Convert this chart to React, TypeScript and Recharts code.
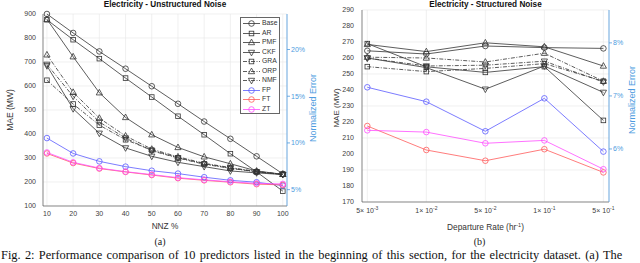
import React from "react";
import { LineChart, Line, XAxis, YAxis, CartesianGrid } from "recharts";

// (a) unstructured noise, MAE (MW) vs NNZ %
const nnz = [10, 20, 30, 40, 50, 60, 70, 80, 90, 100];
const baseA = [900, 821, 744, 672, 599, 526, 452, 380, 307, 234];
const arA = [876, 793, 714, 633, 554, 474, 397, 318, 242, 162];
const pmfA = [878, 722, 572, 469, 397, 344, 305, 276, 246, 232];
const ckfA = [684, 505, 403, 342, 307, 282, 264, 246, 238, 231];
const graA = [624, 525, 437, 376, 333, 301, 276, 258, 243, 232];
const orpA = [730, 574, 466, 392, 337, 305, 278, 260, 244, 232];
const nmfA = [690, 557, 450, 383, 330, 300, 274, 257, 242, 231];
const fpA = [383, 319, 286, 264, 247, 235, 220, 207, 199, 185];
const ftA = [319, 279, 256, 242, 229, 216, 207, 199, 191, 188];
const ztA = [323, 282, 258, 243, 231, 218, 209, 201, 194, 192];

// (b) structured noise, MAE (MW) vs departure rate
const rateMant = ["5", "1", "5", "1", "5"];
const rateExp = ["-3", "-2", "-2", "-1", "-1"];
const baseB = [264.5, 262.5, 267.5, 266.5, 266];
const arB = [269, 254.5, 251, 254.6, 221];
const pmfB = [268.5, 264, 269.5, 267, 255];
const ckfB = [260, 254, 240.5, 255, 238.5];
const graB = [254.6, 251.5, 253.5, 256.5, 245.5];
const orpB = [260.5, 260, 257.5, 263, 245.5];
const nmfB = [260, 255, 255.5, 258, 245];
const fpB = [241.7, 232.7, 214.2, 234.8, 201.5];
const ftB = [217.5, 202.5, 195.8, 203, 188.5];
const ztB = [214.8, 213.7, 206.7, 208.5, 190.5];

const yTicksA = [100, 200, 300, 400, 500, 600, 700, 800, 900];
const pctTicksA = [5, 10, 15, 20];
const yTicksB = [170, 180, 190, 200, 210, 220, 230, 240, 250, 260, 270, 280, 290];
const pctTicksB = [6, 7, 8];

const INK = "#333";
const BLUE = "#5a5aff";
const RED = "#ff5a5a";
const MAG = "#ff4dff";
const AXBLUE = "#4d9be0";
const DASHDOT = "4 1.5 1 1.5";

const series = [
  { key: "Base", shape: "o", color: INK, dash: undefined, a: baseA, b: baseB },
  { key: "AR", shape: "s", color: INK, dash: undefined, a: arA, b: arB },
  { key: "PMF", shape: "^", color: INK, dash: undefined, a: pmfA, b: pmfB },
  { key: "CKF", shape: "v", color: INK, dash: undefined, a: ckfA, b: ckfB },
  { key: "GRA", shape: "s", color: INK, dash: DASHDOT, a: graA, b: graB },
  { key: "ORP", shape: "^", color: INK, dash: DASHDOT, a: orpA, b: orpB },
  { key: "NMF", shape: "v", color: INK, dash: DASHDOT, a: nmfA, b: nmfB },
  { key: "FP", shape: "o", color: BLUE, dash: undefined, a: fpA, b: fpB },
  { key: "FT", shape: "o", color: RED, dash: undefined, a: ftA, b: ftB },
  { key: "ZT", shape: "o", color: MAG, dash: undefined, a: ztA, b: ztB },
];

const dataA = nnz.map((x, i) => {
  const row: Record<string, number> = { x };
  series.forEach((s) => (row[s.key] = s.a[i]));
  return row;
});
const dataB = rateMant.map((_, i) => {
  const row: Record<string, number> = { x: i };
  series.forEach((s) => (row[s.key] = s.b[i]));
  return row;
});

function markerEl(shape: string, cx: number, cy: number, color: string, key?: any) {
  const sw = 0.8;
  if (shape === "o") return <circle key={key} cx={cx} cy={cy} r={2.8} fill="none" stroke={color} strokeWidth={sw} />;
  if (shape === "s")
    return <rect key={key} x={cx - 2.3} y={cy - 2.3} width={4.6} height={4.6} fill="none" stroke={color} strokeWidth={sw} />;
  const d = shape === "^" ? 1 : -1;
  const pts = `${cx},${cy - 3.4 * d} ${cx - 3.1},${cy + 2.2 * d} ${cx + 3.1},${cy + 2.2 * d}`;
  return <polygon key={key} points={pts} fill="none" stroke={color} strokeWidth={sw} />;
}

const dotFor = (shape: string, color: string) => (p: any) => {
  if (p.cx == null || p.cy == null) return <g key={p.index} />;
  return markerEl(shape, p.cx, p.cy, color, p.index);
};

const tickStyle = { fontSize: 7, fill: "#404040", fontFamily: "Liberation Sans" };
const blueTick = { fontSize: 7, fill: AXBLUE, fontFamily: "Liberation Sans" };

const RateTick = (props: any) => {
  const { x, y, payload } = props;
  const i = payload.value;
  return (
    <text x={x} y={y + 9} textAnchor="middle" fontSize={7} fill="#404040" fontFamily="Liberation Sans">
      {rateMant[i]}× 10
      <tspan dy={-3} fontSize={5}>
        {rateExp[i]}
      </tspan>
    </text>
  );
};

const abs = (s: React.CSSProperties): React.CSSProperties => ({ position: "absolute", whiteSpace: "nowrap", lineHeight: 1, ...s });

function VLabel({ text, cx, cy, color, size }: { text: string; cx: number; cy: number; color: string; size: number }) {
  return (
    <div style={abs({ left: cx, top: cy, fontSize: size, color, transform: "translate(-50%, -50%) rotate(-90deg)" })}>{text}</div>
  );
}

function LegendBox() {
  return (
    <div style={abs({ left: 240, top: 17, width: 40, height: 97, border: "0.8px solid #666", background: "#fff", boxSizing: "border-box", paddingTop: 1 })}>
      {series.map((s) => (
        <div key={s.key} style={{ display: "flex", alignItems: "center", height: 9.5 }}>
          <svg width={21} height={9} style={{ display: "block" }}>
            <line x1={2} y1={4.5} x2={19} y2={4.5} stroke={s.color} strokeWidth={0.8} strokeDasharray={s.dash} />
            {markerEl(s.shape, 10.5, 4.5, s.color)}
          </svg>
          <span style={{ fontSize: 6.8, color: "#333" }}>{s.key}</span>
        </div>
      ))}
    </div>
  );
}

function lines() {
  return series.map((s) => (
    <Line
      key={s.key}
      yAxisId="l"
      type="linear"
      dataKey={s.key}
      stroke={s.color}
      strokeWidth={0.8}
      strokeDasharray={s.dash}
      dot={dotFor(s.shape, s.color)}
      activeDot={false}
      isAnimationActive={false}
    />
  ));
}

export default function App() {
  return (
    <div style={{ position: "absolute", left: 0, top: 0, width: 640, height: 263, overflow: "hidden", background: "#fff", fontFamily: "Liberation Sans" }}>
      {/* (a) */}
      <div style={abs({ left: 0, top: 0 })}>
        <LineChart width={320} height={263} data={dataA} margin={{ top: 14, right: 0, bottom: 0, left: 0 }}>
          <CartesianGrid yAxisId="l" stroke="#e6e6e6" strokeWidth={0.6} />
          <XAxis dataKey="x" type="number" domain={[8.5, 101.6]} ticks={nnz} height={57} tick={tickStyle} tickLine={false} tickSize={4} tickMargin={1} stroke="#444" strokeWidth={0.6} />
          <YAxis yAxisId="l" type="number" domain={[100, 900]} ticks={yTicksA} width={43} tick={tickStyle} tickLine={false} tickSize={4} tickMargin={3} stroke="#444" strokeWidth={0.6} />
          <YAxis yAxisId="r" orientation="right" type="number" domain={[3.25, 23.8]} allowDataOverflow ticks={pctTicksA} width={33} tick={blueTick} tickFormatter={(v: number) => `${v}%`} tickSize={3} tickMargin={1} stroke={AXBLUE} strokeWidth={0.8} />
          {lines()}
        </LineChart>
        <LegendBox />
        <div style={abs({ left: 165, top: 1, transform: "translateX(-50%)", fontSize: 8.2, fontWeight: "bold", color: "#111" })}>Electricity - Unstructured Noise</div>
        <VLabel text="MAE (MW)" cx={10} cy={110} color="#333" size={8.5} />
        <VLabel text="Normalized Error" cx={313} cy={108} color={AXBLUE} size={9} />
        <div style={abs({ left: 165, top: 222, transform: "translateX(-50%)", fontSize: 8.3, color: "#333" })}>NNZ %</div>
        <div style={abs({ left: 160, top: 237, transform: "translateX(-50%)", fontSize: 10, color: "#222", fontFamily: "Liberation Serif" })}>(a)</div>
      </div>

      {/* (b) */}
      <div style={abs({ left: 320, top: 0 })}>
        <LineChart width={320} height={263} data={dataB} margin={{ top: 10, right: 0, bottom: 0, left: 0 }}>
          <CartesianGrid yAxisId="l" stroke="#e6e6e6" strokeWidth={0.6} />
          <XAxis dataKey="x" type="number" domain={[-0.09, 4.095]} ticks={[0, 1, 2, 3, 4]} height={61} tick={<RateTick />} tickLine={false} tickSize={0} stroke="#444" strokeWidth={0.6} />
          <YAxis yAxisId="l" type="number" domain={[170, 290]} ticks={yTicksB} width={42} tick={tickStyle} tickLine={false} tickSize={4} tickMargin={4} stroke="#444" strokeWidth={0.6} />
          <YAxis yAxisId="r" orientation="right" type="number" domain={[5.0, 8.62]} allowDataOverflow ticks={pctTicksB} width={31} tick={blueTick} tickFormatter={(v: number) => `${v}%`} tickSize={3} tickMargin={1} stroke={AXBLUE} strokeWidth={0.8} />
          {lines()}
        </LineChart>
        <div style={abs({ left: 165.5, top: 1, transform: "translateX(-50%)", fontSize: 8.2, fontWeight: "bold", color: "#111" })}>Electricity - Structured Noise</div>
        <VLabel text="MAE (MW)" cx={17} cy={108} color="#333" size={8} />
        <VLabel text="Normalized Error" cx={312} cy={100} color={AXBLUE} size={9} />
        <div style={abs({ left: 165.5, top: 223, transform: "translateX(-50%)", fontSize: 8.3, color: "#333" })}>
          Departure Rate (hr<sup style={{ fontSize: 5.5, verticalAlign: 3 }}>-1</sup>)
        </div>
        <div style={abs({ left: 159.5, top: 237, transform: "translateX(-50%)", fontSize: 10, color: "#222", fontFamily: "Liberation Serif" })}>(b)</div>
      </div>

      <div style={abs({ left: 1, top: 249, width: 640, fontSize: 12.4, color: "#111", fontFamily: "Liberation Serif", wordSpacing: 1.2 })}>
        Fig. 2: Performance comparison of 10 predictors listed in the beginning of this section, for the electricity dataset. (a) The
      </div>
    </div>
  );
}
